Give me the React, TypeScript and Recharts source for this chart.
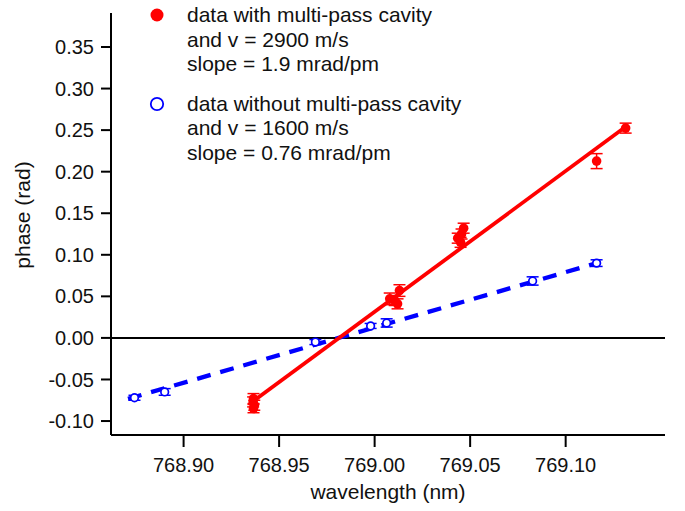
import {
  ComposedChart,
  ErrorBar,
  Legend,
  ReferenceLine,
  Scatter,
  XAxis,
  YAxis,
} from "recharts";

// values
const withCavity = [
  { x: 768.9366, y: -0.073, err: 0.006 },
  { x: 768.9364, y: -0.077, err: 0.006 },
  { x: 768.937, y: -0.081, err: 0.006 },
  { x: 768.9366, y: -0.085, err: 0.005 },
  { x: 769.0079, y: 0.047, err: 0.007 },
  { x: 769.0105, y: 0.045, err: 0.006 },
  { x: 769.012, y: 0.041, err: 0.006 },
  { x: 769.013, y: 0.057, err: 0.007 },
  { x: 769.0435, y: 0.12, err: 0.006 },
  { x: 769.045, y: 0.115, err: 0.006 },
  { x: 769.0455, y: 0.125, err: 0.006 },
  { x: 769.0466, y: 0.132, err: 0.006 },
  { x: 769.1162, y: 0.2127, err: 0.009 },
  { x: 769.1314, y: 0.2524, err: 0.006 },
];

const withoutCavity = [
  { x: 768.8743, y: -0.072, err: 0.003 },
  { x: 768.8901, y: -0.065, err: 0.004 },
  { x: 768.969, y: -0.005, err: 0.003 },
  { x: 768.9979, y: 0.0144, err: 0.003 },
  { x: 769.0063, y: 0.018, err: 0.005 },
  { x: 769.0827, y: 0.0685, err: 0.005 },
  { x: 769.1162, y: 0.09, err: 0.004 },
];

const fitWith = [
  { x: 768.9366, y: -0.076 },
  { x: 769.1314, y: 0.254 },
];

const fitWithout = [
  { x: 768.8709, y: -0.0733 },
  { x: 769.1183, y: 0.0913 },
];

const xTicks = [768.9, 768.95, 769.0, 769.05, 769.1];
const yTicks = [-0.1, -0.05, 0, 0.05, 0.1, 0.15, 0.2, 0.25, 0.3, 0.35];

const legendItems = [
  {
    lines: ["data with multi-pass cavity", "and v = 2900 m/s", "slope = 1.9 mrad/pm"],
    color: "#ff0000",
    filled: true,
  },
  {
    lines: ["data without multi-pass cavity", "and v = 1600 m/s", "slope = 0.76 mrad/pm"],
    color: "#0000ff",
    filled: false,
  },
];

const FONT = "'Liberation Sans', Arial, Helvetica, sans-serif";
const INK = "#111";

const RedDot = (props: any) => (
  <circle cx={props.cx} cy={props.cy} r={4.8} fill="#ff0000" />
);

const BlueRing = (props: any) => (
  <circle cx={props.cx} cy={props.cy} r={3.8} fill="#fff" stroke="#0000ff" strokeWidth={1.7} />
);

const NoDot = () => <g />;

const YTitle = (props: any) => {
  const vb = props.viewBox;
  const cx = vb.x + 22;
  const cy = vb.y + vb.height / 2 - 9;
  return (
    <text
      x={cx}
      y={cy}
      transform={`rotate(-90 ${cx} ${cy})`}
      textAnchor="middle"
      dominantBaseline="central"
      fontSize={21}
      fontFamily={FONT}
      fill={INK}
    >
      phase (rad)
    </text>
  );
};

const LegendBox = () => (
  <div style={{ fontFamily: FONT, fontSize: 21, color: INK, lineHeight: "24.5px" }}>
    {legendItems.map((item, i) => (
      <div key={i} style={{ display: "flex", marginTop: i === 0 ? 0 : 15 }}>
        <svg width={39} height={24} style={{ flex: "none" }}>
          <circle
            cx={9}
            cy={12}
            r={item.filled ? 6.5 : 6.2}
            fill={item.filled ? item.color : "#fff"}
            stroke={item.color}
            strokeWidth={item.filled ? 0 : 1.8}
          />
        </svg>
        <div>
          {item.lines.map((l) => (
            <div key={l} style={{ whiteSpace: "nowrap" }}>
              {l}
            </div>
          ))}
        </div>
      </div>
    ))}
  </div>
);

export default function App() {
  return (
    <div style={{ position: "absolute", left: 0, top: 0, width: 685, height: 511, background: "#fff" }}>
      <ComposedChart
        width={685}
        height={511}
        margin={{ top: 13, right: 20, bottom: 12, left: 0 }}
      >
        <XAxis
          type="number"
          dataKey="x"
          domain={[768.862, 769.152]}
          allowDataOverflow
          ticks={xTicks}
          interval={0}
          tickFormatter={(v: number) => v.toFixed(2)}
          height={64}
          tickSize={12}
          tickMargin={11}
          stroke="#000"
          strokeWidth={2}
          tick={{ fill: INK, fontSize: 20, fontFamily: FONT }}
          label={{
            value: "wavelength (nm)",
            position: "insideBottom",
            offset: 0,
            fill: INK,
            fontSize: 21,
            fontFamily: FONT,
          }}
        />
        <YAxis
          type="number"
          dataKey="y"
          domain={[-0.1168, 0.3909]}
          allowDataOverflow
          ticks={yTicks}
          interval={0}
          tickFormatter={(v: number) => v.toFixed(2)}
          width={111}
          tickSize={10}
          tickMargin={7}
          stroke="#000"
          strokeWidth={2}
          tick={{ fill: INK, fontSize: 20, fontFamily: FONT }}
          label={<YTitle />}
        />
        <ReferenceLine y={0} stroke="#000" strokeWidth={2} />
        <Scatter
          data={fitWithout}
          line={{ stroke: "#0000ff", strokeWidth: 4.3, strokeDasharray: "14 10" }}
          shape={NoDot}
          isAnimationActive={false}
          legendType="none"
        />
        <Scatter
          data={fitWith}
          line={{ stroke: "#ff0000", strokeWidth: 3.8 }}
          shape={NoDot}
          isAnimationActive={false}
          legendType="none"
        />
        <Scatter data={withoutCavity} shape={BlueRing} isAnimationActive={false}>
          <ErrorBar dataKey="err" direction="y" width={6} stroke="#0000ff" strokeWidth={1.5} />
        </Scatter>
        <Scatter data={withCavity} shape={RedDot} isAnimationActive={false}>
          <ErrorBar dataKey="err" direction="y" width={6} stroke="#ff0000" strokeWidth={1.5} />
        </Scatter>
        <Legend
          layout="vertical"
          align="center"
          verticalAlign="middle"
          content={<LegendBox />}
          wrapperStyle={{ position: "absolute", left: 148, top: 3, width: "auto", height: "auto" }}
        />
      </ComposedChart>
    </div>
  );
}
